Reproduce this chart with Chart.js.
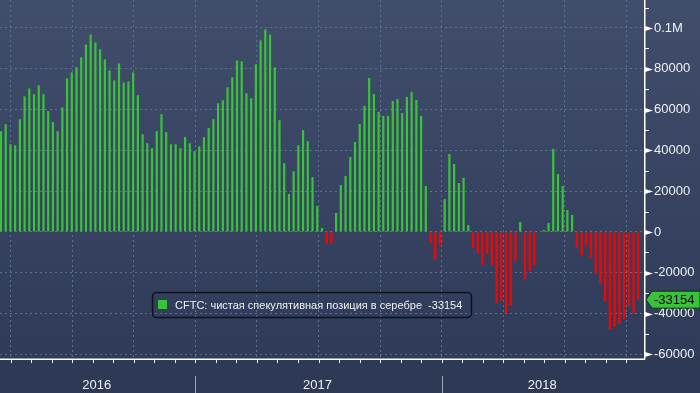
<!DOCTYPE html>
<html>
<head>
<meta charset="utf-8">
<script src="https://cdn.jsdelivr.net/npm/chart.js@4/dist/chart.umd.min.js"></script>
<style>
  html, body { margin: 0; padding: 0; background: #2e3a56; }
  #wrap { width: 700px; height: 393px; }
</style>
</head>
<body>
<div id="wrap"><canvas id="chart"></canvas></div>
<script>
const SERIES_LABEL = 'CFTC: чистая спекулятивная позиция в серебре';
// weeks counted from 2016-01-01; the first bar is mid-March 2016
const FIRST_WEEK = 11;
const NET_POSITION = [
  49400, 52800, 43000, 42500, 55300, 66500, 70400, 67500, 71900, 67500,
  59200, 53800, 49400, 61100, 75300, 78200, 80700, 85600, 91900, 96800,
  92900, 89500, 84600, 79200, 74300, 82600, 73300, 73800, 78200, 67000,
  47900, 43500, 41100, 49400, 57700, 48900, 43000, 43000, 41100,
  46500, 43500, 39600, 42000, 46500, 50900, 55300, 63100, 64500, 70900,
  75800, 84100, 83600, 68000, 65500, 82200, 93900, 99300, 96800, 80700,
  54800, 33700, 18600, 29800, 42500, 49900, 44500, 26900, 12700, 2000,
  -5500, -5500, 9300, 23000, 27400, 36700,
  44100, 52900, 61800, 75500, 67600, 58800, 56900, 56900, 64200, 65200,
  58300, 66200, 68600, 64700, 56900, 22500, -5400, -13700, -6400, 16200,
  38200, 33300, 24000, 26500, 3400, -7800, -10300, -16200, -10800, -16200,
  -34800, -33800, -39700, -35800, -14200,
  4900, -23000, -19100, -16200, -400, 1000, 4400, 40700, 28400, 22500,
  10800, 8300, -7800, -11300, -6400, -12300, -20100, -25500, -34300, -47500,
  -46600, -45100, -42600, -36300, -40200, -33154,
];
const YEAR_LABELS = ['2016', '2017', '2018'];
const YEAR_STARTS = [0, 52.18, 104.36];
const QUARTER_WEEKS = [13.04, 26.09, 39.13, 52.18, 65.22, 78.27, 91.31, 104.36, 117.4, 130.45, 143.49];
const Y_TICKS = [-60000, -40000, -20000, 0, 20000, 40000, 60000, 80000, 100000];
const Y_TICK_LABELS = ['-60000', '-40000', '-20000', '0', '20000', '40000', '60000', '80000', '0.1M'];

const X_MIN = 10.79;
const X_MAX = 147.44;
const Y_MIN = -62250;
const Y_MAX = 113700;

const GREEN = '#3ac23a';
const RED = '#ff0000';
const GRID = '#56728f';
const TEXT = '#eef1f6';
const FONT = '"Liberation Sans", Arial, sans-serif';

function noPadding(scale) {
  scale.paddingTop = 0;
  scale.paddingBottom = 0;
  scale.paddingLeft = 0;
  scale.paddingRight = 0;
}

const backdrop = {
  id: 'backdrop',
  beforeDraw(chart) {
    const { ctx, chartArea, width, height } = chart;
    ctx.save();
    ctx.fillStyle = '#2d3955';
    ctx.fillRect(0, 0, width, height);
    const grad = ctx.createLinearGradient(0, 0, 0, chartArea.bottom);
    grad.addColorStop(0, '#414e6b');
    grad.addColorStop(1, '#2f3b58');
    ctx.fillStyle = grad;
    ctx.fillRect(0, 0, width, chartArea.bottom);
    ctx.restore();
  },
};

const decorations = {
  id: 'decorations',
  afterDraw(chart) {
    const { ctx, chartArea, scales } = chart;
    const xs = scales.x;
    const ys = scales.y;
    const right = chartArea.right;
    const bottom = chartArea.bottom;
    ctx.save();

    // axis lines
    ctx.strokeStyle = '#ffffff';
    ctx.lineWidth = 1.5;
    ctx.beginPath();
    ctx.moveTo(right - 0.25, 0);
    ctx.lineTo(right - 0.25, bottom + 0.5);
    ctx.moveTo(0, bottom + 0.25);
    ctx.lineTo(right, bottom + 0.25);
    ctx.stroke();

    // minor y ticks every 10000, triangles on major ticks
    ctx.lineWidth = 1;
    for (let v = -60000; v <= 110000; v += 10000) {
      const y = Math.round(ys.getPixelForValue(v)) + 0.5;
      if (Y_TICKS.includes(v)) {
        ctx.fillStyle = '#ffffff';
        ctx.beginPath();
        ctx.moveTo(right, y - 2.5);
        ctx.lineTo(right + 8, y);
        ctx.lineTo(right, y + 2.5);
        ctx.closePath();
        ctx.fill();
      } else {
        ctx.beginPath();
        ctx.moveTo(right, y);
        ctx.lineTo(right + 4, y);
        ctx.stroke();
      }
    }

    // month ticks under the x axis
    for (let q = 0; q < QUARTER_WEEKS.length + 1; q++) {
      const start = q === 0 ? 0 : QUARTER_WEEKS[q - 1];
      const step = (q === 0 ? QUARTER_WEEKS[0] : QUARTER_WEEKS[1] - QUARTER_WEEKS[0]) / 3;
      for (let m = 0; m < 3; m++) {
        const px = Math.round(xs.getPixelForValue(start + m * step)) + 0.5;
        if (px < 0 || px > right) continue;
        ctx.beginPath();
        ctx.moveTo(px, bottom);
        ctx.lineTo(px, bottom + 4);
        ctx.stroke();
      }
    }

    // year separators and labels
    ctx.font = `13px ${FONT}`;
    ctx.fillStyle = TEXT;
    ctx.textAlign = 'center';
    ctx.textBaseline = 'middle';
    YEAR_LABELS.forEach((label, i) => {
      const startPx = Math.max(0, xs.getPixelForValue(YEAR_STARTS[i]));
      const endPx = i + 1 < YEAR_STARTS.length ? xs.getPixelForValue(YEAR_STARTS[i + 1]) : right;
      if (i > 0) {
        const sx = Math.round(startPx) + 0.5;
        ctx.strokeStyle = '#9aa4b8';
        ctx.beginPath();
        ctx.moveTo(sx, bottom + 17);
        ctx.lineTo(sx, chart.height);
        ctx.stroke();
      }
      ctx.fillText(label, (startPx + endPx) / 2 - 1, bottom + 26);
    });

    // legend box
    const last = NET_POSITION[NET_POSITION.length - 1];
    ctx.strokeStyle = '#0c111c';
    ctx.lineWidth = 1.5;
    ctx.beginPath();
    ctx.roundRect(152.5, 292.5, 319, 25, 4);
    ctx.stroke();
    ctx.fillStyle = GREEN;
    ctx.fillRect(158, 300, 9, 9);
    ctx.fillStyle = TEXT;
    ctx.font = `11px ${FONT}`;
    ctx.textAlign = 'left';
    ctx.fillText(`${SERIES_LABEL}  ${last}`, 175, 305.5);

    // last value tag
    const ty = ys.getPixelForValue(last);
    ctx.fillStyle = GREEN;
    ctx.strokeStyle = '#123012';
    ctx.lineWidth = 1;
    ctx.beginPath();
    ctx.moveTo(right + 1, ty);
    ctx.lineTo(right + 7, ty - 8.5);
    ctx.lineTo(700, ty - 8.5);
    ctx.lineTo(700, ty + 8.5);
    ctx.lineTo(right + 7, ty + 8.5);
    ctx.closePath();
    ctx.fill();
    ctx.stroke();
    ctx.fillStyle = '#000000';
    ctx.font = `13px ${FONT}`;
    ctx.fillText(String(last), right + 9, ty + 0.5);

    ctx.restore();
  },
};

new Chart(document.getElementById('chart'), {
  type: 'bar',
  data: {
    datasets: [{
      label: SERIES_LABEL,
      data: NET_POSITION.map((value, i) => ({ x: FIRST_WEEK + i, y: value })),
      backgroundColor: (ctx) => (ctx.raw && ctx.raw.y < 0 ? RED : GREEN),
      borderWidth: 0,
      categoryPercentage: 1,
      barPercentage: 0.47,
    }],
  },
  options: {
    responsive: true,
    maintainAspectRatio: false,
    animation: false,
    layout: { padding: 0 },
    plugins: {
      legend: { display: false },
      tooltip: { enabled: false },
    },
    scales: {
      x: {
        type: 'linear',
        position: 'bottom',
        offset: false,
        min: X_MIN,
        max: X_MAX,
        afterFit(scale) { scale.height = 34; noPadding(scale); },
        afterBuildTicks(scale) { scale.ticks = QUARTER_WEEKS.map((value) => ({ value })); },
        ticks: { display: false },
        grid: { color: GRID, lineWidth: 1, drawTicks: false, offset: false },
        border: { display: false, dash: [2, 3] },
      },
      y: {
        position: 'right',
        min: Y_MIN,
        max: Y_MAX,
        afterFit(scale) { scale.width = 55; noPadding(scale); },
        afterBuildTicks(scale) { scale.ticks = Y_TICKS.map((value) => ({ value })); },
        ticks: {
          callback: (value, index) => Y_TICK_LABELS[index],
          color: TEXT,
          font: { family: FONT, size: 13 },
          padding: 9,
        },
        grid: { color: GRID, lineWidth: 1, drawTicks: false },
        border: { display: false, dash: [2, 3] },
      },
    },
  },
  plugins: [backdrop, decorations],
});
</script>
</body>
</html>
